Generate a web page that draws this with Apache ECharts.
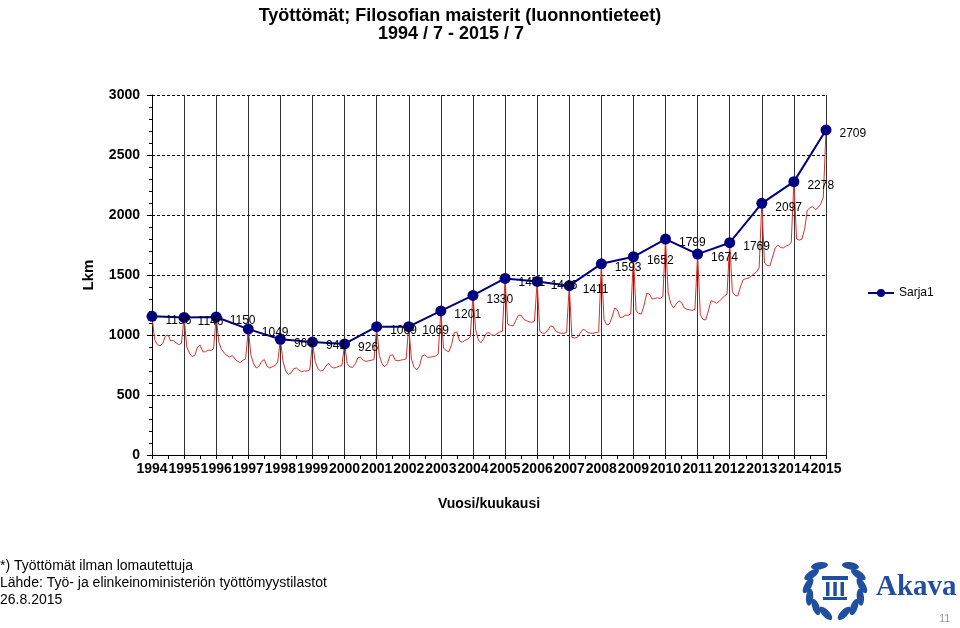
<!DOCTYPE html>
<html><head><meta charset="utf-8">
<script src="https://cdn.jsdelivr.net/npm/echarts@6/dist/echarts.min.js"></script>
<style>html,body{margin:0;padding:0;background:#fff}#c{width:960px;height:628px}</style>
</head><body><div id="c"></div>
<script>
// Tick labels (years) – each July point
const years = [1994,1995,1996,1997,1998,1999,2000,2001,2002,2003,2004,2005,2006,2007,2008,2009,2010,2011,2012,2013,2014,2015];
// July values (Sarja1)
const julyValues = [1156,1146,1150,1049,964,941,926,1069,1069,1201,1330,1471,1446,1411,1593,1652,1799,1674,1769,2097,2278,2709];
// Monthly values between consecutive Julys (Aug..Jun)
const m1994 = [960,920,910,930,990,1000,950,955,935,920,930];
const m1995 = [900,850,820,830,900,915,860,860,875,870,885];
const m1996 = [940,880,850,830,815,830,800,780,770,790,800];
const m1997 = [830,760,725,740,780,795,740,725,735,745,775];
const m1998 = [780,700,670,685,720,725,705,695,700,700,710];
const m1999 = [780,720,700,705,740,765,735,725,730,740,745];
const m2000 = [760,735,730,760,810,815,790,780,785,790,795];
const m2001 = [830,760,735,760,830,835,790,785,790,795,800];
const m2002 = [800,730,710,740,825,835,815,815,820,825,840];
const m2003 = [890,870,860,920,1020,1025,950,940,955,965,985];
const m2004 = [1045,960,935,970,1015,1020,1000,995,1010,1025,1030];
const m2005 = [1090,1080,1075,1120,1165,1165,1130,1120,1110,1105,1115];
const m2006 = [1030,1015,1015,1040,1075,1070,1030,1020,1015,1015,1020];
const m2007 = [980,975,980,1010,1045,1040,1020,1015,1015,1020,1025];
const m2008 = [1130,1085,1090,1150,1225,1210,1145,1150,1165,1165,1175];
const m2009 = [1200,1180,1175,1250,1350,1340,1300,1305,1310,1305,1320];
const m2010 = [1350,1260,1225,1260,1285,1270,1225,1215,1210,1205,1215];
const m2011 = [1170,1130,1125,1200,1285,1280,1265,1280,1300,1325,1340];
const m2012 = [1360,1330,1325,1400,1460,1470,1475,1490,1510,1525,1560];
const m2013 = [1600,1580,1575,1650,1725,1750,1730,1725,1740,1750,1770];
const m2014 = [1800,1790,1800,1880,2040,2060,2070,2045,2060,2090,2150];
const between = [m1994,m1995,m1996,m1997,m1998,m1999,m2000,m2001,m2002,m2003,m2004,m2005,m2006,m2007,m2008,m2009,m2010,m2011,m2012,m2013,m2014];

const categories = [], monthly = [], july = [];
for (let i = 0; i < years.length; i++) {
  categories.push(years[i] + '/7'); monthly.push(julyValues[i]); july.push(julyValues[i]);
  if (i < between.length) {
    for (let k = 0; k < 11; k++) {
      const mo = k + 8, yr = mo > 12 ? years[i] + 1 : years[i];
      categories.push(yr + '/' + (mo > 12 ? mo - 12 : mo));
      monthly.push(between[i][k]); july.push(null);
    }
  }
}

const BLUE = '#1f4f9e';
const leaves = [];
(function(){
  const cx = 835, cy = 588, r = 27;
  const angs = [-55,-30,-5,20,45,70, 110,135,160,185,210,235];
  angs.forEach(a => {
    const rad = a * Math.PI / 180;
    leaves.push({type:'ellipse', shape:{cx:0,cy:0,rx:8.5,ry:3.6},
      x: cx + r*Math.cos(rad), y: cy + r*Math.sin(rad),
      rotation: -(rad + Math.PI/2) + (a<90 ? 0.45 : -0.45),
      style:{fill:BLUE}, silent:true});
  });
})();

const chart = echarts.init(document.getElementById('c'));
chart.setOption({
  animation:false,
  textStyle:{fontFamily:'Liberation Sans, Arial, sans-serif'},
  title:[
    {text:'Työttömät; Filosofian maisterit (luonnontieteet)', left:455, top:2, textAlign:'center',
     textStyle:{fontSize:18, fontWeight:'bold', color:'#000', fontFamily:'Liberation Sans, Arial'}},
    {text:'1994 / 7 - 2015 / 7', left:446, top:20, textAlign:'center',
     textStyle:{fontSize:18, fontWeight:'bold', color:'#000', fontFamily:'Liberation Sans, Arial'}}
  ],
  legend:{data:['Sarja1'], left:862, top:282, itemWidth:26, itemHeight:10,
    textStyle:{fontSize:12, color:'#000'}},
  grid:{left:152, right:134, top:95, bottom:173, containLabel:false},
  xAxis:{type:'category', data:categories, boundaryGap:false,
    name:'Vuosi/kuukausi', nameLocation:'middle', nameGap:42,
    nameTextStyle:{fontSize:14, fontWeight:'bold', color:'#000'},
    axisLine:{lineStyle:{color:'#000', width:1}},
    axisTick:{show:true, interval:5, length:4, lineStyle:{color:'#000'}},
    axisLabel:{interval:11, color:'#000', fontSize:14, fontWeight:'bold', margin:7,
      formatter:v => v.split('/')[0]},
    splitLine:{show:true, interval:11, lineStyle:{color:'#333', width:1}}
  },
  yAxis:{type:'value', min:0, max:3000, interval:500,
    name:'Lkm', nameLocation:'middle', nameGap:56, nameRotate:90,
    nameTextStyle:{fontSize:15, fontWeight:'bold', color:'#000'},
    axisLine:{show:true, lineStyle:{color:'#000'}},
    axisTick:{show:true, length:5, lineStyle:{color:'#000'}},
    minorTick:{show:true, splitNumber:5, length:3, lineStyle:{color:'#000'}},
    axisLabel:{color:'#000', fontSize:14, fontWeight:'bold', margin:12, formatter:v => String(v)},
    splitLine:{show:true, lineStyle:{color:'#000', type:[3,2], width:1}}
  },
  series:[
    {name:'kuukausi', type:'line', data:monthly, symbol:'none', z:2,
     lineStyle:{color:'#d9302c', width:1}, itemStyle:{color:'#d9302c'}},
    {name:'Sarja1', type:'line', data:july, connectNulls:true, z:3,
     symbol:'circle', symbolSize:11,
     lineStyle:{color:'#000080', width:2}, itemStyle:{color:'#000080'},
     label:{show:true, position:'right', distance:8, offset:[0,4], color:'#000', fontSize:12}}
  ],
  graphic:[
    {type:'text', left:0, top:559, style:{text:'*) Työttömät ilman lomautettuja', fontSize:14, fill:'#000', fontFamily:'Liberation Sans, Arial'}},
    {type:'text', left:0, top:576, style:{text:'Lähde: Työ- ja elinkeinoministeriön työttömyystilastot', fontSize:14, fill:'#000', fontFamily:'Liberation Sans, Arial'}},
    {type:'text', left:0, top:593, style:{text:'26.8.2015', fontSize:14, fill:'#000', fontFamily:'Liberation Sans, Arial'}},
    {type:'text', left:876, top:573, style:{text:'Akava', fontSize:29, fontWeight:'bold', fill:BLUE, fontFamily:'Liberation Serif, DejaVu Serif, serif'}},
    {type:'text', left:939, top:613, style:{text:'11', fontSize:11, fill:'#999', fontFamily:'Liberation Sans, Arial'}},
    {type:'group', children:leaves.concat([
      {type:'rect', shape:{x:822,y:576,width:26,height:4}, style:{fill:BLUE}},
      {type:'rect', shape:{x:826,y:582,width:3.5,height:14}, style:{fill:BLUE}},
      {type:'rect', shape:{x:833.3,y:582,width:3.5,height:14}, style:{fill:BLUE}},
      {type:'rect', shape:{x:840.5,y:582,width:3.5,height:14}, style:{fill:BLUE}},
      {type:'rect', shape:{x:823,y:597,width:24,height:3}, style:{fill:BLUE}}
    ])}
  ]
});
</script></body></html>
